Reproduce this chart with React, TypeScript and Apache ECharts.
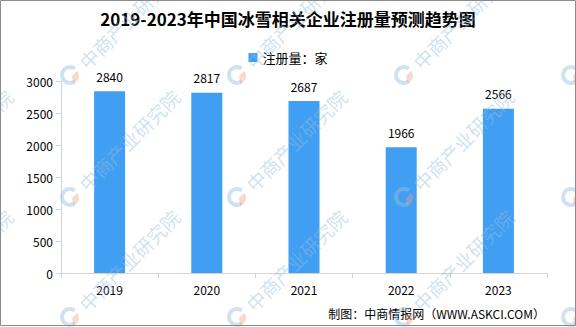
import React, { useEffect, useRef } from "react";
import * as echarts from "echarts";

const years = ["2019", "2020", "2021", "2022", "2023"];
const registrations = [2840, 2817, 2687, 1966, 2566];
const yTicks = { min: 0, max: 3000, interval: 500 };
const titleText = "2019-2023年中国冰雪相关企业注册量预测趋势图";
const legendName = "注册量：家";
const footerText = "制图：中商情报网（WWW.ASKCI.COM）";
const watermarkText = "中商产业研究院";

const FONT = "'Noto Sans CJK SC', 'Noto Sans', sans-serif";

function buildWatermarks() {
  const cols = [-97, 70, 237, 404, 571];
  const rows = [75, 197, 317];
  const els: any[] = [];
  for (const cx of cols) {
    for (const cy of rows) {
      els.push({
        type: "arc",
        silent: true,
        z: 100,
        shape: { cx, cy, r: 8, startAngle: Math.PI * 0.3, endAngle: Math.PI * 1.7, clockwise: true },
        style: { stroke: "rgba(150,190,220,0.45)", lineWidth: 4, fill: null },
      });
      els.push({
        type: "sector",
        silent: true,
        z: 100,
        shape: { cx: cx + 2, cy: cy + 1, r: 7, r0: 0, startAngle: -Math.PI * 0.25, endAngle: Math.PI * 0.45 },
        style: { fill: "rgba(240,160,130,0.4)" },
      });
      els.push({
        type: "text",
        silent: true,
        z: 100,
        x: cx + 12,
        y: cy - 10,
        rotation: Math.PI / 4,
        style: {
          text: watermarkText,
          fontSize: 19,
          fontFamily: FONT,
          fill: "rgba(150,190,220,0.45)",
          textAlign: "left",
          textVerticalAlign: "middle",
        },
      });
    }
  }
  return els;
}

export default function App() {
  const ref = useRef<HTMLDivElement>(null);
  useEffect(() => {
    document.body.style.margin = "0";
    const chart = echarts.init(ref.current!, null, { renderer: "svg" });
    chart.setOption({
      animation: false,
      backgroundColor: "#ffffff",
      title: {
        text: titleText,
        left: "center",
        top: 10,
        padding: 0,
        textStyle: { fontSize: 17, fontWeight: "bold", color: "#000", fontFamily: FONT },
      },
      legend: {
        data: [legendName],
        top: 46,
        left: "center",
        itemWidth: 9,
        itemHeight: 9,
        icon: "rect",
        itemGap: 5,
        textStyle: { fontSize: 13, color: "#000", fontFamily: FONT },
      },
      grid: { left: 61, right: 29, top: 81, bottom: 54, containLabel: false },
      xAxis: {
        type: "category",
        data: years,
        boundaryGap: true,
        axisLine: { lineStyle: { color: "#d4d4d4" } },
        axisTick: { show: true, length: 5, alignWithLabel: false, lineStyle: { color: "#d4d4d4" } },
        axisLabel: { color: "#000", fontSize: 12, margin: 10, fontFamily: FONT },
      },
      yAxis: {
        type: "value",
        min: yTicks.min,
        max: yTicks.max,
        interval: yTicks.interval,
        axisLine: { show: true, lineStyle: { color: "#d4d4d4" } },
        axisTick: { show: true, length: 5, lineStyle: { color: "#d4d4d4" } },
        splitLine: { show: false },
        axisLabel: {
          color: "#000",
          fontSize: 12,
          margin: 8,
          fontFamily: FONT,
          formatter: (v: number) => String(v),
        },
      },
      series: [
        {
          name: legendName,
          type: "bar",
          data: registrations,
          barWidth: 31,
          itemStyle: { color: "#409ef3" },
          label: {
            show: true,
            position: "top",
            distance: 9,
            color: "#000",
            fontSize: 12,
            fontFamily: FONT,
          },
        },
      ],
      graphic: [
        {
          type: "text",
          right: 31,
          top: 307,
          z: 50,
          style: { text: footerText, fontSize: 12, fill: "#000", fontFamily: FONT },
        },
        ...buildWatermarks(),
        {
          type: "rect",
          silent: true,
          z: 200,
          shape: { x: 0.5, y: 0.5, width: 575, height: 325 },
          style: { fill: null, stroke: "#8c8c8c", lineWidth: 1 },
        },
      ],
    });
    return () => chart.dispose();
  }, []);
  return <div ref={ref} style={{ width: 576, height: 327 }} />;
}
